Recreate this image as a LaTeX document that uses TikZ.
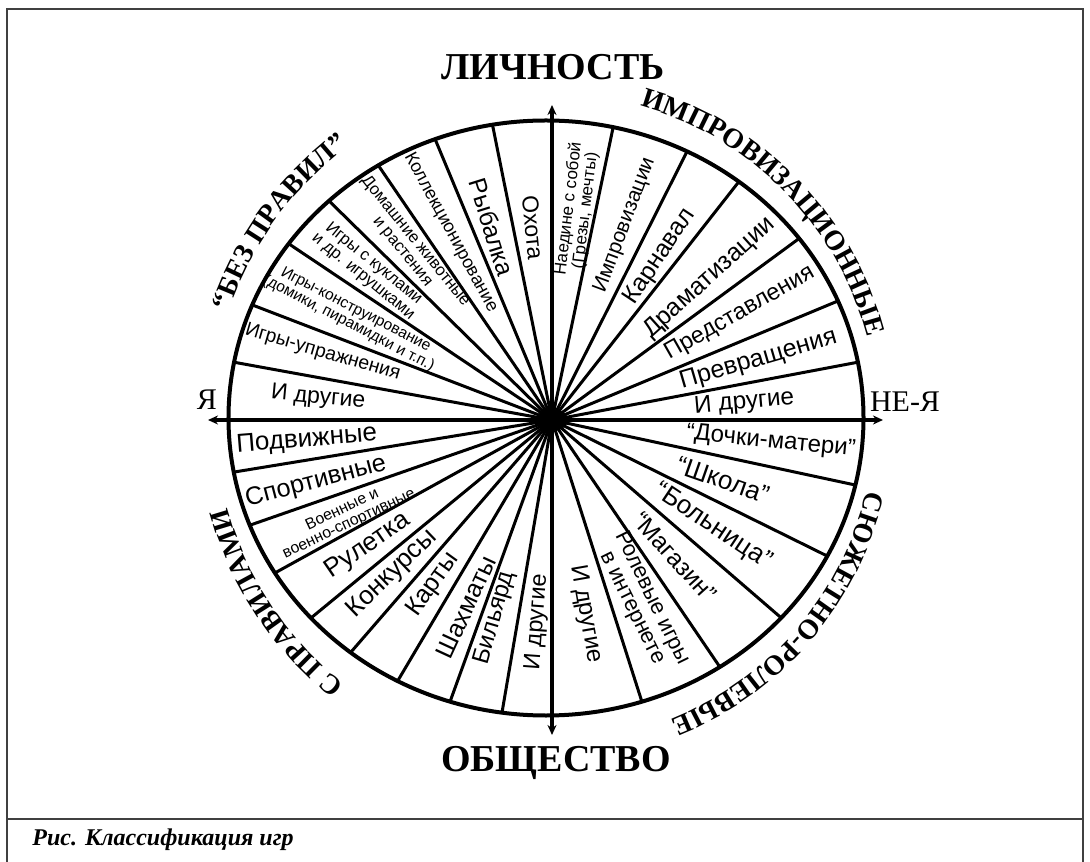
\documentclass[tikz,border=0pt]{standalone}
\usepackage{fontspec}
\setmainfont{Liberation Serif}
\newfontfamily\labelfont{Liberation Sans}
\usetikzlibrary{arrows.meta,decorations.text}

\begin{document}
\begin{tikzpicture}[
  x=0.5pt, y=0.5pt,
  >={Stealth[length=5pt, width=4.5pt]},
  frame/.style={line width=1pt, color=black!75},
  rim/.style={line width=2pt},
  spoke/.style={line width=1.5pt},
  axis/.style={<->, line width=2.3pt},
  sector/.style={font=\labelfont\fontsize{#1}{#1}\selectfont, align=center, inner sep=0pt},
  sector/.default=12,
  pole/.style={font=\bfseries\fontsize{19}{22}\selectfont, inner sep=0pt},
  side/.style={font=\fontsize{15}{18}\selectfont, inner sep=0pt},
  arctext/.style={decorate, decoration={text along path, text align=center,
    text={|\bfseries\fontsize{14}{16}\selectfont|#1}}}
]
\useasboundingbox (-552,-441) rectangle (538,420);

\draw[frame] (-545,-445) -- (-545,411) -- (531,411) -- (531,-445);
\draw[frame] (-545,-399) -- (531,-399);
\node[anchor=west, inner sep=0pt, font=\bfseries\itshape\fontsize{12}{14}\selectfont] (caption) at (-520,-420) {Рис. Классификация игр};

\coordinate (O) at (0,0);
\coordinate (up) at (0,315);
\coordinate (down) at (0,-315);
\coordinate (left) at (-344,0);
\coordinate (right) at (331,0);

\begin{scope}
  \clip (-6,2) ellipse [x radius=317.5, y radius=297.5];
  \foreach \a in {169.7,159,146.2,135.5,124.3,112.6,101.4,
                  78.2,63.3,51.9,36.3,22.6,10.7,
                  -12.1,-26.3,-40.8,-55.8,-72.3,
                  189.3,199.2,208.9,219.4,229.1,239.4,250.1,260.3}
    \draw[spoke] (O) -- (\a:420);
\end{scope}
\draw[rim] (-6,2) ellipse [x radius=317.5, y radius=297.5];
\fill (O) ellipse [x radius=16, y radius=11];
\draw[axis] (up) -- (down);
\draw[axis] (left) -- (right);

\node[pole] (lichnost) at (1,353) {ЛИЧНОСТЬ};
\node[pole] (obshchestvo) at (4,-343) {ОБЩЕСТВО};
\node[side] (ya) at (-345,20) {Я};
\node[side] (neya) at (353,18) {НЕ-Я};

\path[arctext={“БЕЗ ПРАВИЛ”}] (165:341) arc[start angle=165, end angle=123, radius=341];
\path[arctext={ИМПРОВИЗАЦИОННЫЕ}] (78:326) arc[start angle=78, end angle=11, radius=326];
\path[arctext={СЮЖЕТНО-РОЛЕВЫЕ}] (-10:322) arc[start angle=-10, end angle=-71, radius=322];
\path[arctext={С ПРАВИЛАМИ}] (236:336) arc[start angle=236, end angle=191, radius=336];

\node[sector=11.5, rotate=-5.4] (bp1) at (174.6:235) {И другие};
\node[sector=9.7, rotate=-16.3] (bp2) at (163.7:239) {Игры-упражнения};
\node[sector=7.8, rotate=-27.3] (bp3) at (152.7:225) {Игры-конструирование\\(домики, пирамидки и т.п.)};
\node[sector=8.3, rotate=-39.2] (bp4) at (140.8:237) {Игры с куклами\\и др. игрушками};
\node[sector=8.3, rotate=-51] (bp5) at (129.5:225) {Домашние животные\\и растения};
\node[sector=9, rotate=-61.6] (bp6) at (118.4:213) {Коллекционирование};
\node[sector=12.3, rotate=-72.7] (bp7) at (107.3:202) {Рыбалка};
\node[sector=11.5, rotate=-84.3] (bp8) at (95.7:193) {Охота};

\node[sector=8.5, rotate=83.2] (im1) at (83.2:212) {Наедине с собой\\(Грезы, мечты)};
\node[sector=10.4, rotate=69.5] (im2) at (69.5:208) {Импровизации};
\node[sector=12.3, rotate=56.5] (im3) at (56.5:196) {Карнавал};
\node[sector=12.5, rotate=42] (im4) at (42:212) {Драматизации};
\node[sector=11.7, rotate=29.6] (im5) at (29.6:216) {Представления};
\node[sector=12.5, rotate=16.2] (im6) at (16.2:215) {Превращения};
\node[sector=12.2, rotate=5.1] (im7) at (5.1:193) {И другие};

\node[sector=12, rotate=-5.7] (sr1) at (-5.7:220) {“Дочки-матери”};
\node[sector=13, rotate=-19.3] (sr2) at (-19.3:181) {“Школа”};
\node[sector=13, rotate=-33.6] (sr3) at (-33.6:193) {“Больница”};
\node[sector=12.3, rotate=-48.1] (sr4) at (-48.1:184) {“Магазин”};
\node[sector=11, rotate=-63.8] (sr5) at (-63.8:204) {Ролевые игры\\в интернете};
\node[sector=12, rotate=-80.1] (sr6) at (-80.1:197) {И другие};

\node[sector=13, rotate=4.7] (sp1) at (184.7:246) {Подвижные};
\node[sector=12.6, rotate=14.7] (sp2) at (194.7:244) {Спортивные};
\node[sector=7.9, rotate=25.2] (sp3) at (205.2:228) {Военные и\\военно-спортивные};
\node[sector=13, rotate=34.4] (sp4) at (214.4:223) {Рулетка};
\node[sector=13, rotate=43.9] (sp5) at (223.9:222) {Конкурсы};
\node[sector=12.6, rotate=54.2] (sp6) at (234.2:203) {Карты};
\node[sector=12.6, rotate=65.3] (sp7) at (245.3:206) {Шахматы};
\node[sector=12, rotate=73.9] (sp8) at (253.9:206) {Бильярд};
\node[sector=11.7, rotate=85.8] (sp9) at (265.8:203) {И другие};
\end{tikzpicture}
\end{document}
